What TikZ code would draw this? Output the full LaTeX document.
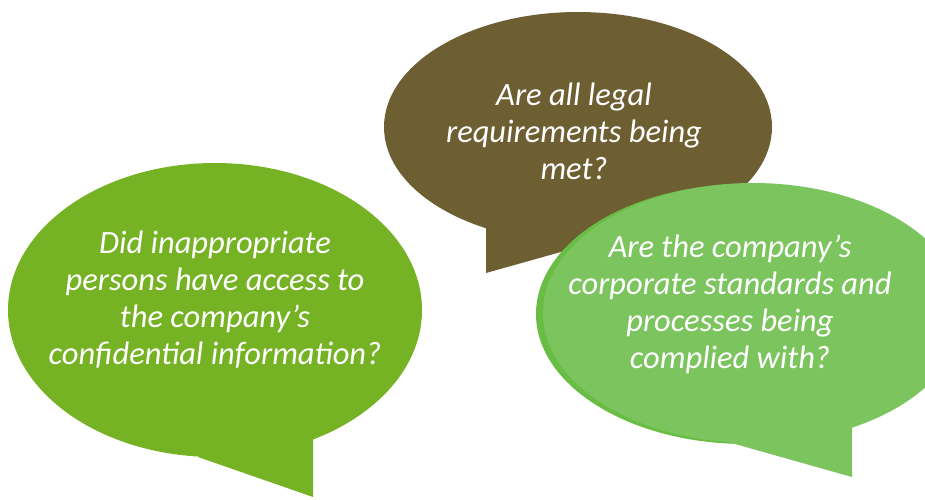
\documentclass[tikz,border=0pt]{standalone}
\usepackage{fontspec}
\setmainfont{Carlito}
\usepackage{tikz}

\definecolor{leafgreen}{HTML}{75B224}
\definecolor{barkbrown}{HTML}{6E5F33}
\definecolor{mossgreen}{HTML}{7CC45E}
\definecolor{mossedge}{HTML}{69BD44}

\begin{document}
\begin{tikzpicture}[x=1pt, y=-1pt,
    question/.style={text=white, align=center, font=\fontsize{32.5}{37}\selectfont\itshape}]
  \useasboundingbox (0,0) rectangle (925,499);

  % left bubble
  \fill[leafgreen] (215,310) ellipse [x radius=207, y radius=147];
  \fill[leafgreen] (198,457) -- (313,497) -- (313,425) -- (230,425) -- cycle;
  \node[question] (access) at (215,300)
    {Did inappropriate\\persons have access to\\the company’s\\confidential information?};

  % top bubble
  \fill[barkbrown] (578,127) ellipse [x radius=194, y radius=115];
  \fill[barkbrown] (486,228) -- (486,273) -- (600,241) -- (600,215) -- cycle;
  \node[question] (legal) at (574,131)
    {Are all legal\\requirements being\\met?};

  % right bubble, with its darker rim behind
  \fill[mossedge] (746,314) ellipse [x radius=210, y radius=130];
  \fill[mossgreen] (753,313) ellipse [x radius=210, y radius=130];
  \fill[mossgreen] (728,442) -- (852,477) -- (852,415) -- (728,415) -- cycle;
  \node[question] (standards) at (730,304)
    {Are the company’s\\corporate standards and\\processes being\\complied with?};
\end{tikzpicture}
\end{document}
